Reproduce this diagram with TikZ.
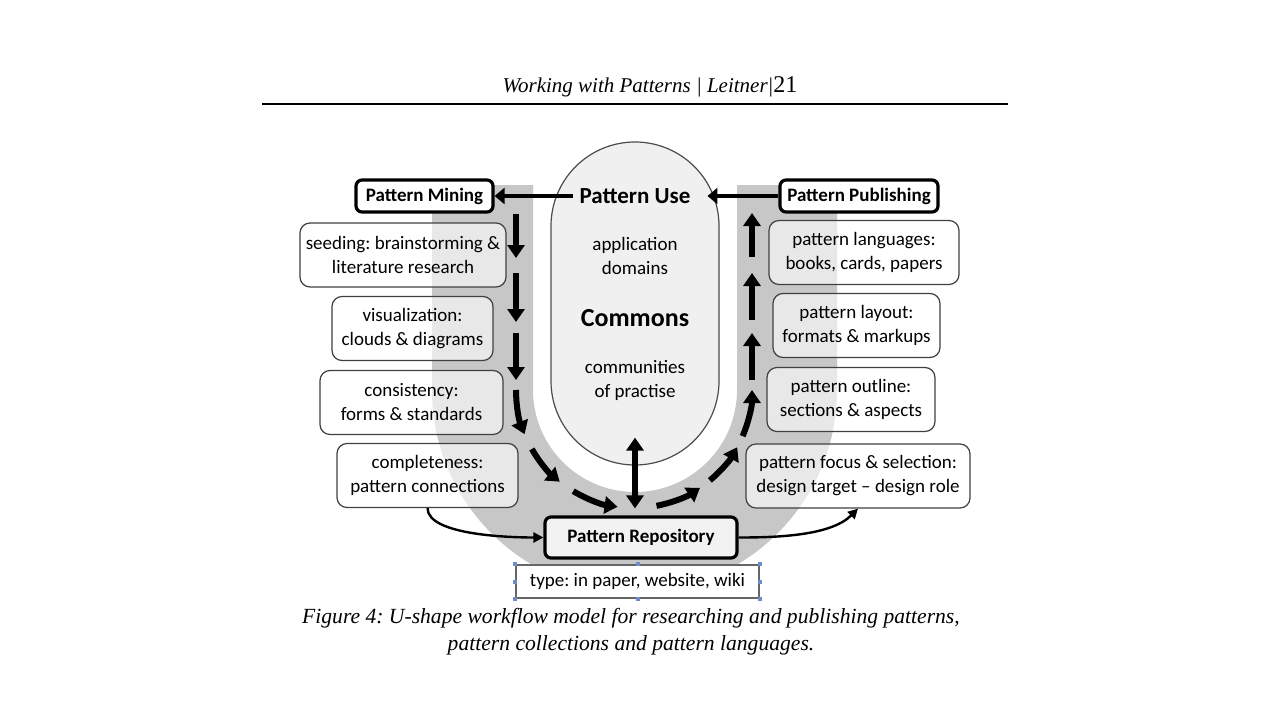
\documentclass[tikz,border=0pt]{standalone}
\usepackage{fontspec}
\setmainfont{Liberation Serif}
\newfontfamily\boxfont{Carlito}
\usetikzlibrary{arrows.meta}
\definecolor{ushade}{gray}{0.78}
\definecolor{capsulefill}{gray}{0.94}
\definecolor{handleblue}{RGB}{110,140,200}
\frenchspacing

\begin{document}
\begin{tikzpicture}[x=0.5pt, y=0.5pt]

% Page area
\useasboundingbox[fill=white] (0,0) rectangle (1280,720);

% Define styles for stages, tasks and arrows
\tikzstyle{stage}=[rectangle, rounded corners=3pt, draw=black, line width=1.6pt, fill=white, inner sep=0pt, minimum height=16pt, font=\boxfont\bfseries\fontsize{9.5}{11}\selectfont]
\tikzstyle{task}=[rectangle, rounded corners=5pt, draw=black!75, line width=0.6pt, fill=white, fill opacity=0.6, text opacity=1, inner sep=0pt, minimum height=32pt, align=center, font=\boxfont\fontsize{9.5}{12}\selectfont]
\tikzstyle{flow}=[line width=3pt, -{Triangle[width=8.5pt,length=6.5pt]}]
\tikzstyle{feed}=[line width=2pt, -{Triangle[width=8pt,length=5pt]}]
\tikzstyle{link}=[line width=1.2pt, -{Triangle[width=5pt,length=5pt]}]
\tikzstyle{handle}=[fill=handleblue]

% Running header
\node[font=\itshape\fontsize{10.5}{12}\selectfont] (header) at (650,633) {Working with Patterns | Leitner|\upshape\fontsize{12}{12}\selectfont 21};
\draw[line width=0.7pt] (262,616) -- (1008,616);

% Grey U band
\fill[ushade] (432,535) -- (432,330) arc[start angle=180, end angle=360, radius=202.5] -- (837,535) -- (737,535) -- (737,330) arc[start angle=0, end angle=-180, radius=102] -- (533,535) -- cycle;

% Commons in the middle
\node[draw=black!70, line width=0.6pt, fill=capsulefill, rounded corners=42pt, minimum width=84pt, minimum height=161.5pt] (commons) at (635,416.5) {};
\node[font=\boxfont\bfseries\fontsize{11.5}{14}\selectfont] (use) at (635,524) {Pattern Use};
\node[font=\boxfont\fontsize{9.5}{12}\selectfont, align=center] (domains) at (635,464.5) {application\\domains};
\node[font=\boxfont\bfseries\fontsize{13}{16}\selectfont] (core) at (635,402) {Commons};
\node[font=\boxfont\fontsize{9.5}{12}\selectfont, align=center] (practise) at (635,339.5) {communities\\of practise};

% Mining side
\node[stage, minimum width=68.5pt] (mining) at (424.5,524) {Pattern Mining};
\node[task, minimum width=103pt] (seeding) at (403,465) {seeding: brainstorming \&\\literature research};
\node[task, minimum width=80.5pt] (visual) at (412.5,391.5) {visualization:\\clouds \& diagrams};
\node[task, minimum width=91.5pt] (consistency) at (411.5,317.5) {consistency:\\forms \& standards};
\node[task, minimum width=90.5pt] (completeness) at (427.5,244.5) {completeness:\\pattern connections};

% Publishing side
\node[stage, minimum width=79pt] (publishing) at (859,524) {Pattern Publishing};
\node[task, minimum width=95pt] (languages) at (864,467.5) {pattern languages:\\books, cards, papers};
\node[task, minimum width=83.5pt] (layout) at (856.5,394.5) {pattern layout:\\formats \& markups};
\node[task, minimum width=84pt] (outline) at (851,320.5) {pattern outline:\\sections \& aspects};
\node[task, minimum width=112pt] (focus) at (858,244) {pattern focus \& selection:\\design target – design role};

% Repository at the bottom
\node[stage, fill=black!5, minimum width=96pt, minimum height=20.5pt] (repo) at (641,182.5) {Pattern Repository};
\node[draw=black!60, line width=0.6pt, fill=white, inner sep=0pt, minimum width=121.5pt, minimum height=16.5pt, font=\boxfont\fontsize{9.5}{11}\selectfont] (type) at (637.5,138.5) {type: in paper, website, wiki};
\foreach \a in {north west, north, north east, east, south east, south, south west, west}
  \fill[handle] (type.\a) ++(-1pt,-1pt) rectangle ++(2pt,2pt);

% Arrows
\draw[feed] (use.west) -- (mining.east);
\draw[feed, shorten >=5pt] (publishing.west) -- (use.east);
\draw[flow, {Triangle[width=8.5pt,length=6.5pt]}-{Triangle[width=8.5pt,length=6.5pt]}, shorten <=3.5pt, shorten >=-14pt] (repo.north -| commons.south) -- (commons.south);

\coordinate (hub) at (634,330);
\foreach \from/\to in {506/462, 447/398, 387/340}
  \draw[flow] (516,\from) -- (516,\to);
\foreach \from/\to in {180/202, 210/231, 239/262, 281/304, 310/331, 337/360}
  \draw[flow] ([shift={(\from:118)}]hub) arc[start angle=\from, end angle=\to, radius=118];
\foreach \from/\to in {340/387, 400/447, 463/507}
  \draw[flow] (752,\from) -- (752,\to);

\draw[link] (completeness.south) to[out=-90, in=180, looseness=0.6] (repo.west);
\draw[link] (repo.east) to[out=0, in=-135, looseness=0.8] (focus.south);

% Caption
\node[font=\itshape\fontsize{10.8}{13.5}\selectfont, align=center] (caption) at (631,88.5) {Figure 4: U-shape workflow model for researching and publishing patterns,\\pattern collections and pattern languages.};

\end{tikzpicture}
\end{document}
